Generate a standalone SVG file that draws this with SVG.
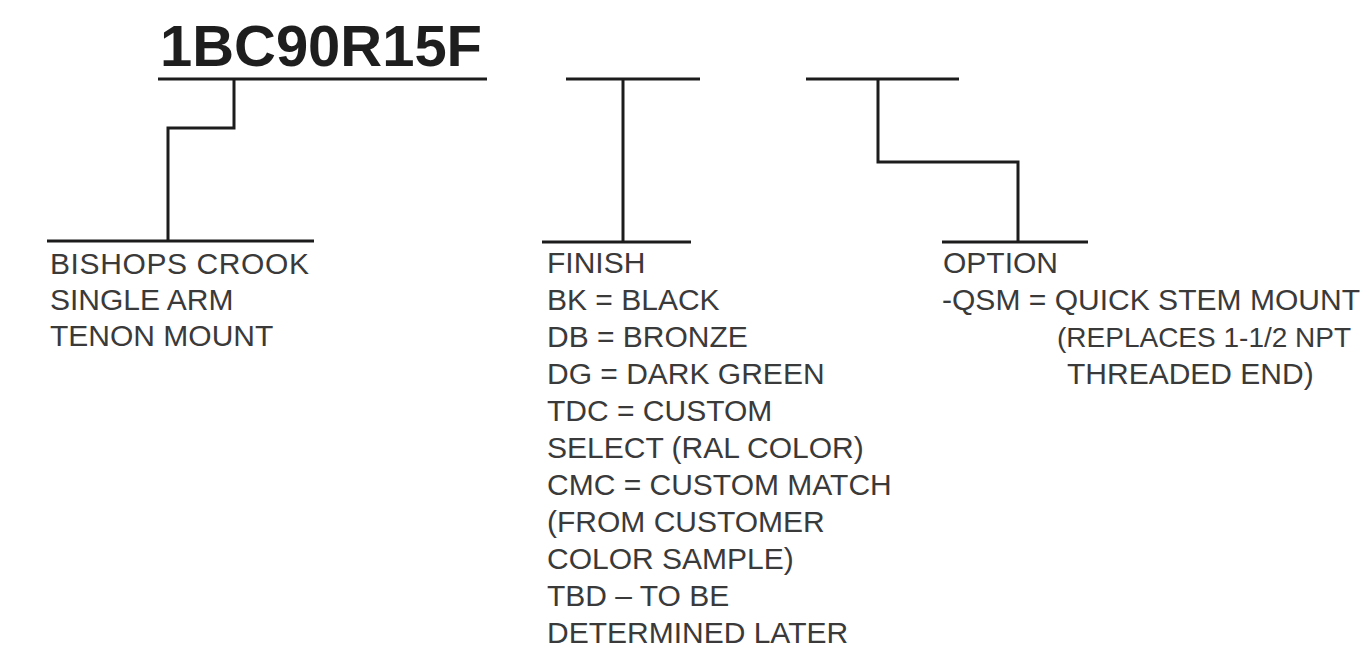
<svg xmlns="http://www.w3.org/2000/svg" width="1369" height="655" viewBox="0 0 1369 655">
<style>
.bg{fill:#ffffff}
.ln{stroke:#1c1c1c;stroke-width:3;fill:none;stroke-linecap:butt;stroke-linejoin:miter}
.t{font-family:"Liberation Sans",Arial,sans-serif;font-size:30px;fill:#3a3a3a}
.tn{font-family:"Liberation Sans",Arial,sans-serif;font-size:28px;fill:#3a3a3a}
.title{font-family:"Liberation Sans",Arial,sans-serif;font-size:58px;font-weight:bold;fill:#1e1e1e}
</style>
<rect class="bg" x="0" y="0" width="1369" height="655"/>
<g id="code-model">
<text class="title" x="160" y="66" textLength="322" lengthAdjust="spacingAndGlyphs">1BC90R15F</text>
<line class="ln" x1="158" y1="79" x2="487" y2="79"/>
</g>
<g id="code-finish">
<line class="ln" x1="566" y1="79" x2="700" y2="79"/>
</g>
<g id="code-option">
<line class="ln" x1="806" y1="79" x2="959" y2="79"/>
</g>
<g id="label-model">
<line class="ln" x1="47" y1="241" x2="314" y2="241"/>
<text class="t" x="50" y="274" textLength="259">BISHOPS CROOK</text>
<text class="t" x="50" y="310">SINGLE ARM</text>
<text class="t" x="50" y="346">TENON MOUNT</text>
</g>
<g id="label-finish">
<line class="ln" x1="542" y1="242" x2="691" y2="242"/>
<text class="t" x="547" y="273">FINISH</text>
<text class="t" x="547" y="310">BK = BLACK</text>
<text class="t" x="547" y="347">DB = BRONZE</text>
<text class="t" x="547" y="384">DG = DARK GREEN</text>
<text class="t" x="547" y="421">TDC = CUSTOM</text>
<text class="t" x="547" y="458">SELECT (RAL COLOR)</text>
<text class="t" x="547" y="495">CMC = CUSTOM MATCH</text>
<text class="t" x="547" y="532">(FROM CUSTOMER</text>
<text class="t" x="547" y="569">COLOR SAMPLE)</text>
<text class="t" x="547" y="606">TBD – TO BE</text>
<text class="t" x="547" y="643">DETERMINED LATER</text>
</g>
<g id="label-option">
<line class="ln" x1="942" y1="242" x2="1088" y2="242"/>
<text class="t" x="943" y="273">OPTION</text>
<text class="t" x="942" y="310" textLength="418" lengthAdjust="spacingAndGlyphs">-QSM = QUICK STEM MOUNT</text>
<text class="tn" x="1057" y="347">(REPLACES 1-1/2 NPT</text>
<text class="t" x="1067" y="384">THREADED END)</text>
</g>
<g id="connectors">
<polyline class="ln" points="234,79 234,128 168,128 168,241"/>
<polyline class="ln" points="623,79 623,242"/>
<polyline class="ln" points="878,79 878,162 1018,162 1018,242"/>
</g>
</svg>
